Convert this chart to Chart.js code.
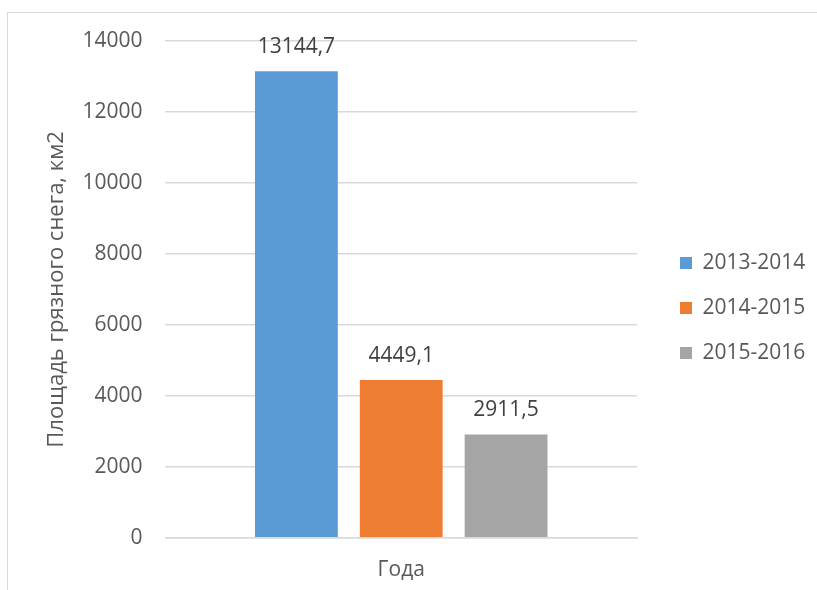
<!DOCTYPE html>
<html><head><meta charset="utf-8">
<script src="https://cdn.jsdelivr.net/npm/chart.js@4"></script>
<style>
html,body{margin:0;padding:0;background:#fff;}
#wrap{position:relative;width:817px;height:590px;}
#frame{position:absolute;left:7px;top:12px;right:0;bottom:0;border-left:1px solid #d9d9d9;border-top:1px solid #d9d9d9;}
canvas{position:absolute;left:0;top:0;}
</style></head><body>
<div id="wrap"><div id="frame"></div><canvas id="c" width="817" height="590"></canvas></div>
<script>
const categories = ['Года'];
const seriesNames = ['2013-2014', '2014-2015', '2015-2016'];
const seriesValues = [13144.7, 4449.1, 2911.5];
const valueLabels = ['13144,7', '4449,1', '2911,5'];
const yTicks = [0, 2000, 4000, 6000, 8000, 10000, 12000, 14000];
const colors = ['#5B9BD5', '#ED7D31', '#A5A5A5'];
const FONT = '"Open Sans", sans-serif';

const labelPlugin = {
  id: 'vlabels',
  afterDatasetsDraw(chart) {
    const ctx = chart.ctx;
    ctx.save();
    ctx.font = '21px ' + FONT;
    ctx.fillStyle = '#404040';
    ctx.textAlign = 'center';
    ctx.textBaseline = 'alphabetic';
    chart.data.datasets.forEach((ds, i) => {
      const meta = chart.getDatasetMeta(i);
      meta.data.forEach(el => {
        ctx.fillText(valueLabels[i], el.x, el.y - 18);
      });
    });
    ctx.restore();
  }
};

const legendPos = {
  id: 'legendPos',
  beforeLayout(chart) {
    const lg = chart.legend;
    if (lg && !lg._patched) {
      const orig = lg.fit;
      lg.fit = function () { orig.call(this); this.width = 180; };
      lg._patched = true;
    }
  },
  afterLayout(chart) {
    if (chart.legend) {
      chart.legend.left = 656;
      chart.legend.top = 0;
      chart.legend.bottom = 616;
    }
  }
};

new Chart(document.getElementById('c'), {
  type: 'bar',
  data: {
    labels: categories,
    datasets: seriesNames.map((n, i) => ({
      label: n,
      data: [seriesValues[i]],
      backgroundColor: colors[i],
      borderWidth: 0
    }))
  },
  options: {
    responsive: false,
    animation: false,
    devicePixelRatio: 1,
    layout: { padding: { top: 41, right: 0, bottom: -13, left: 44 } },
    datasets: { bar: { categoryPercentage: 0.667, barPercentage: 0.79 } },
    scales: {
      y: {
        min: 0, max: 14000,
        afterBuildTicks(axis) { axis.ticks = yTicks.map(v => ({ value: v })); },
        ticks: { color: '#595959', font: { size: 21, family: FONT }, padding: 23, callback: v => String(v) },
        grid: { color: '#d9d9d9', lineWidth: 1.5, drawTicks: false },
        border: { display: false },
        title: { display: true, text: 'Площадь грязного снега, км2', color: '#595959', font: { size: 22, family: FONT }, padding: { top: 0, bottom: -11 } }
      },
      x: {
        ticks: { color: '#595959', font: { size: 21, family: FONT }, padding: 20 },
        grid: { display: false, drawTicks: false },
        border: { display: true, color: '#d9d9d9', width: 1.5 }
      }
    },
    plugins: {
      legend: {
        position: 'right',
        labels: { boxWidth: 12, boxHeight: 12, padding: 24, color: '#595959', font: { size: 21, family: FONT } }
      },
      tooltip: { enabled: false }
    }
  },
  plugins: [labelPlugin, legendPos]
});
</script>
</body></html>
